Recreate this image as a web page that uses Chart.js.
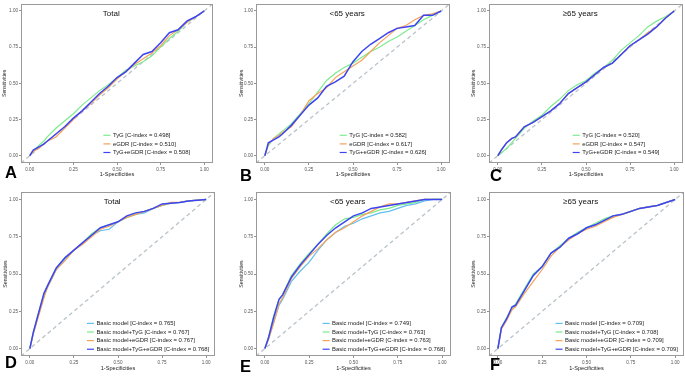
<!DOCTYPE html>
<html>
<head>
<meta charset="utf-8">
<script src="https://cdn.jsdelivr.net/npm/chart.js@4/dist/chart.umd.min.js"></script>
<style>
  html, body { margin:0; padding:0; background:#fff; }
  #wrap { position:relative; width:685px; height:376px; overflow:hidden; background:#fff; }
  canvas { position:absolute; }
  .letter { position:absolute; font-family:"Liberation Sans", Arial, sans-serif; font-weight:bold; font-size:16.5px; line-height:16.5px; color:#000; }
</style>
</head>
<body>
<div id="wrap"></div>
<script>
// ---------------- DATA ----------------
const fprGrid = [0, 0.02, 0.05, 0.08, 0.1, 0.15, 0.2, 0.25, 0.3, 0.35, 0.4, 0.45, 0.5, 0.55, 0.6, 0.65, 0.7, 0.75, 0.8, 0.85, 0.9, 0.95, 1];
const tickValues = [0, 0.25, 0.5, 0.75, 1];
const tickLabels = ['0.00', '0.25', '0.50', '0.75', '1.00'];
const panelTitles = ['Total', '<65 years', '≥65 years', 'Total', '<65 years', '≥65 years'];
const panelLetters = ['A', 'B', 'C', 'D', 'E', 'F'];
const xTitle = '1-Specificities';
const yTitle = 'Sensitivities';

const topModels = ['TyG', 'eGDR', 'TyG+eGDR'];
const bottomModels = ['Basic model', 'Basic model+TyG', 'Basic model+eGDR', 'Basic model+TyG+eGDR'];

const cIndexA = ['0.498', '0.510', '0.508'];
const cIndexB = ['0.582', '0.617', '0.626'];
const cIndexC = ['0.520', '0.547', '0.549'];
const cIndexD = ['0.765', '0.767', '0.767', '0.768'];
const cIndexE = ['0.749', '0.763', '0.763', '0.768'];
const cIndexF = ['0.709', '0.708', '0.709', '0.709'];

// Panel A (Total)
const aTyG  = [0, 0.03, 0.07, 0.10, 0.13, 0.19, 0.24, 0.29, 0.35, 0.40, 0.45, 0.49, 0.54, 0.59, 0.62, 0.65, 0.69, 0.75, 0.81, 0.86, 0.92, 0.96, 1];
const aEGDR = [0, 0.03, 0.05, 0.08, 0.10, 0.13, 0.19, 0.25, 0.31, 0.36, 0.42, 0.47, 0.53, 0.58, 0.63, 0.67, 0.71, 0.76, 0.83, 0.87, 0.92, 0.96, 1];
const aComb = [0, 0.04, 0.06, 0.08, 0.10, 0.15, 0.20, 0.26, 0.31, 0.37, 0.43, 0.48, 0.54, 0.58, 0.64, 0.70, 0.72, 0.78, 0.85, 0.87, 0.93, 0.96, 1];
// Panel B (<65 years)
const bTyG  = [0, 0.07, 0.12, 0.15, 0.17, 0.22, 0.29, 0.36, 0.44, 0.52, 0.57, 0.61, 0.64, 0.68, 0.72, 0.75, 0.79, 0.82, 0.86, 0.90, 0.94, 0.97, 1];
const bEGDR = [0, 0.08, 0.12, 0.14, 0.16, 0.20, 0.28, 0.38, 0.43, 0.47, 0.54, 0.58, 0.62, 0.66, 0.72, 0.78, 0.83, 0.88, 0.90, 0.94, 0.97, 0.98, 1];
const bComb = [0, 0.09, 0.11, 0.13, 0.15, 0.21, 0.28, 0.35, 0.40, 0.48, 0.51, 0.55, 0.65, 0.72, 0.77, 0.81, 0.85, 0.88, 0.89, 0.90, 0.97, 0.97, 1];
// Panel C (>=65 years)
const cTyG  = [0, 0.02, 0.05, 0.09, 0.12, 0.19, 0.24, 0.28, 0.34, 0.39, 0.45, 0.49, 0.52, 0.57, 0.61, 0.66, 0.73, 0.78, 0.83, 0.89, 0.93, 0.96, 1];
const cEGDR = [0, 0.04, 0.09, 0.12, 0.13, 0.20, 0.23, 0.27, 0.31, 0.36, 0.43, 0.47, 0.51, 0.56, 0.61, 0.64, 0.70, 0.76, 0.80, 0.85, 0.89, 0.95, 1];
const cComb = [0, 0.04, 0.09, 0.12, 0.13, 0.20, 0.23, 0.27, 0.31, 0.36, 0.43, 0.47, 0.51, 0.56, 0.61, 0.64, 0.70, 0.76, 0.80, 0.84, 0.89, 0.95, 1];
// Panel D (Total)
const dBasic = [0, 0.10, 0.23, 0.35, 0.41, 0.53, 0.60, 0.66, 0.71, 0.76, 0.79, 0.80, 0.85, 0.88, 0.90, 0.91, 0.94, 0.96, 0.975, 0.98, 0.99, 0.995, 1];
const dTyG   = [0, 0.11, 0.24, 0.36, 0.42, 0.54, 0.61, 0.66, 0.71, 0.77, 0.81, 0.83, 0.85, 0.88, 0.90, 0.92, 0.94, 0.96, 0.975, 0.98, 0.99, 0.995, 1];
const dEGDR  = [0, 0.10, 0.22, 0.34, 0.41, 0.53, 0.59, 0.66, 0.70, 0.75, 0.80, 0.82, 0.85, 0.88, 0.90, 0.92, 0.94, 0.96, 0.98, 0.98, 0.99, 0.995, 1];
const dComb  = [0, 0.11, 0.24, 0.37, 0.42, 0.54, 0.61, 0.66, 0.71, 0.76, 0.81, 0.83, 0.85, 0.89, 0.91, 0.92, 0.94, 0.97, 0.975, 0.98, 0.99, 0.995, 1];
// Panel E (<65 years)
const eBasic = [0, 0.06, 0.18, 0.29, 0.33, 0.45, 0.52, 0.58, 0.66, 0.73, 0.78, 0.82, 0.84, 0.87, 0.89, 0.91, 0.92, 0.94, 0.96, 0.97, 0.99, 1, 1];
const eTyG   = [0, 0.07, 0.22, 0.33, 0.36, 0.49, 0.57, 0.64, 0.70, 0.77, 0.83, 0.87, 0.88, 0.90, 0.91, 0.93, 0.94, 0.96, 0.97, 0.98, 1, 1, 1];
const eEGDR  = [0, 0.06, 0.17, 0.30, 0.34, 0.47, 0.55, 0.62, 0.67, 0.73, 0.78, 0.81, 0.85, 0.89, 0.92, 0.95, 0.97, 0.97, 0.98, 0.99, 1, 1, 1];
const eComb  = [0, 0.07, 0.21, 0.33, 0.36, 0.48, 0.56, 0.63, 0.70, 0.76, 0.81, 0.85, 0.89, 0.91, 0.94, 0.95, 0.96, 0.97, 0.98, 0.99, 1, 1, 1];
// Panel F (>=65 years)
const fBasic = [0, 0.14, 0.20, 0.27, 0.29, 0.39, 0.49, 0.55, 0.64, 0.68, 0.74, 0.77, 0.81, 0.83, 0.86, 0.89, 0.90, 0.92, 0.94, 0.95, 0.96, 0.98, 1];
const fTyG   = [0, 0.14, 0.21, 0.27, 0.30, 0.40, 0.50, 0.55, 0.64, 0.69, 0.74, 0.78, 0.81, 0.84, 0.87, 0.89, 0.90, 0.92, 0.94, 0.95, 0.96, 0.98, 1];
const fEGDR  = [0, 0.13, 0.19, 0.26, 0.28, 0.37, 0.45, 0.53, 0.62, 0.68, 0.73, 0.77, 0.80, 0.82, 0.85, 0.88, 0.90, 0.92, 0.94, 0.95, 0.96, 0.98, 1];
const fComb  = [0, 0.14, 0.20, 0.28, 0.29, 0.39, 0.49, 0.55, 0.64, 0.68, 0.74, 0.77, 0.81, 0.83, 0.86, 0.89, 0.90, 0.92, 0.94, 0.95, 0.96, 0.98, 1];

// ---------------- STYLE / LAYOUT ----------------
const FONT = '"Liberation Sans", Arial, sans-serif';
const topColors = ['#7DEB8E', '#F5A25A', '#3D45F2'];
const bottomColors = ['#62BDF0', '#7DEB8E', '#F5A25A', '#3D45F2'];
const topWidths = [1.2, 1.2, 1.5];
const bottomWidths = [1.2, 1.2, 1.2, 1.5];

const panels = [
  { canvas:[0,0,228,186],   frame:[21,2,213,163],   yTitlePad:1,  xTitlePad:8.2, letter:[5,163.5],
    models:topModels, cidx:cIndexA, series:[aTyG,aEGDR,aComb], colors:topColors, widths:topWidths },
  { canvas:[228,0,228,186], frame:[256,2,450,163],  yTitlePad:10, xTitlePad:8.2, letter:[240,167],
    models:topModels, cidx:cIndexB, series:[bTyG,bEGDR,bComb], colors:topColors, widths:topWidths },
  { canvas:[456,0,229,186], frame:[489,2,683,163],  yTitlePad:14, xTitlePad:8.2, letter:[490,167],
    models:topModels, cidx:cIndexC, series:[cTyG,cEGDR,cComb], colors:topColors, widths:topWidths },
  { canvas:[0,186,228,190],   frame:[21,192,215,356],  yTitlePad:2,  xTitlePad:4.5, letter:[5,354],
    models:bottomModels, cidx:cIndexD, series:[dBasic,dTyG,dEGDR,dComb], colors:bottomColors, widths:bottomWidths },
  { canvas:[228,186,228,190], frame:[256,192,451,356], yTitlePad:10, xTitlePad:4.5, letter:[240,357.5],
    models:bottomModels, cidx:cIndexE, series:[eBasic,eTyG,eEGDR,eComb], colors:bottomColors, widths:bottomWidths },
  { canvas:[456,186,229,190], frame:[489,192,684,356], yTitlePad:14, xTitlePad:4.5, letter:[490,355.5],
    models:bottomModels, cidx:cIndexF, series:[fBasic,fTyG,fEGDR,fComb], colors:bottomColors, widths:bottomWidths }
];

// plugin: frame, title inside, legend inside
const panelDecor = {
  id: 'panelDecor',
  afterDatasetsDraw(chart, args, opts) {
    const ctx = chart.ctx, a = chart.chartArea;
    ctx.save();
    // frame
    ctx.strokeStyle = '#9a9a9a';
    ctx.lineWidth = 1;
    ctx.strokeRect(Math.round(a.left) + 0.5, Math.round(a.top) + 0.5, Math.round(a.right - a.left) - 1, Math.round(a.bottom - a.top) - 1);
    // title
    ctx.fillStyle = '#111';
    ctx.font = '8px ' + FONT;
    ctx.textAlign = 'center';
    ctx.textBaseline = 'middle';
    ctx.fillText(opts.title, a.left + (a.right - a.left) * 0.47, a.top + 10);
    // legend
    ctx.font = '5.9px ' + FONT;
    ctx.textAlign = 'left';
    const items = opts.items;
    let maxW = 0;
    items.forEach(it => { maxW = Math.max(maxW, ctx.measureText(it.text).width); });
    const sample = 7, gap = 2.5, rowH = 8.6;
    const totalW = sample + gap + maxW;
    const cx = a.left + (a.right - a.left) * 0.655;
    const cy = a.bottom - (a.bottom - a.top) * 0.12;
    const x0 = cx - totalW / 2;
    const y0 = cy - rowH * (items.length - 1) / 2;
    items.forEach((it, i) => {
      const y = y0 + i * rowH;
      ctx.strokeStyle = it.color;
      ctx.lineWidth = 1.2;
      ctx.beginPath();
      ctx.moveTo(x0, y);
      ctx.lineTo(x0 + sample, y);
      ctx.stroke();
      ctx.fillStyle = '#1a1a1a';
      ctx.fillText(it.text, x0 + sample + gap, y);
    });
    ctx.restore();
  }
};

const wrap = document.getElementById('wrap');

panels.forEach((p, idx) => {
  const [cx, cy, cw, ch] = p.canvas;
  const [fx1, fy1, fx2, fy2] = p.frame;
  const cv = document.createElement('canvas');
  cv.width = cw; cv.height = ch;
  cv.style.left = cx + 'px'; cv.style.top = cy + 'px';
  cv.style.width = cw + 'px'; cv.style.height = ch + 'px';
  wrap.appendChild(cv);

  const letter = document.createElement('div');
  letter.className = 'letter';
  letter.textContent = panelLetters[idx];
  letter.style.left = p.letter[0] + 'px';
  letter.style.top = p.letter[1] + 'px';
  wrap.appendChild(letter);

  const yAxisW = fx1 - cx;
  const xAxisH = cy + ch - fy2;
  const padTop = fy1 - cy;
  const padRight = cx + cw - fx2;

  const datasets = [{
    label: 'ref',
    data: [{x:-0.05, y:-0.05}, {x:1.05, y:1.05}],
    borderColor: '#b9c3ca',
    borderWidth: 1.3,
    borderDash: [4, 3],
    pointRadius: 0,
    order: 20
  }];
  p.series.forEach((arr, i) => {
    datasets.push({
      label: p.models[i],
      data: fprGrid.map((x, k) => ({x: x, y: arr[k]})),
      borderColor: p.colors[i],
      borderWidth: p.widths[i],
      pointRadius: 0,
      tension: 0,
      fill: false,
      order: p.series.length - i
    });
  });

  const items = p.models.map((m, i) => ({ text: m + ' [C-index = ' + p.cidx[i] + ']', color: p.colors[i] }));
  const tickCb = (v) => { const k = tickValues.findIndex(t => Math.abs(t - v) < 1e-9); return k >= 0 ? tickLabels[k] : ''; };
  const setTicks = (s) => { s.ticks = tickValues.map(v => ({value: v})); };

  new Chart(cv, {
    type: 'line',
    data: { datasets: datasets },
    options: {
      responsive: false,
      animation: false,
      devicePixelRatio: 1,
      layout: { padding: { top: padTop, right: padRight, left: 0, bottom: 0 } },
      plugins: {
        legend: { display: false },
        tooltip: { enabled: false },
        panelDecor: { title: panelTitles[idx], items: items }
      },
      scales: {
        x: {
          type: 'linear', min: -0.05, max: 1.05,
          afterBuildTicks: setTicks,
          afterFit: (s) => { s.height = xAxisH; },
          ticks: { callback: tickCb, font: { size: 4.6, family: FONT }, color: '#555', padding: 1.5, maxRotation: 0, autoSkip: false },
          grid: { drawOnChartArea: false, drawTicks: true, tickLength: 2, color: '#777', lineWidth: 0.8 },
          border: { display: false },
          title: { display: true, text: xTitle, font: { size: 5.6, family: FONT }, color: '#222', padding: { top: 0, bottom: p.xTitlePad } }
        },
        y: {
          type: 'linear', min: -0.05, max: 1.05,
          afterBuildTicks: setTicks,
          afterFit: (s) => { s.width = yAxisW; },
          ticks: { callback: tickCb, font: { size: 4.6, family: FONT }, color: '#555', padding: 1, autoSkip: false },
          grid: { drawOnChartArea: false, drawTicks: true, tickLength: 2, color: '#777', lineWidth: 0.8 },
          border: { display: false },
          title: { display: true, text: yTitle, font: { size: 5.2, family: FONT }, color: '#222', padding: { top: p.yTitlePad, bottom: 0 } }
        }
      }
    },
    plugins: [panelDecor]
  });
});
</script>
</body>
</html>
